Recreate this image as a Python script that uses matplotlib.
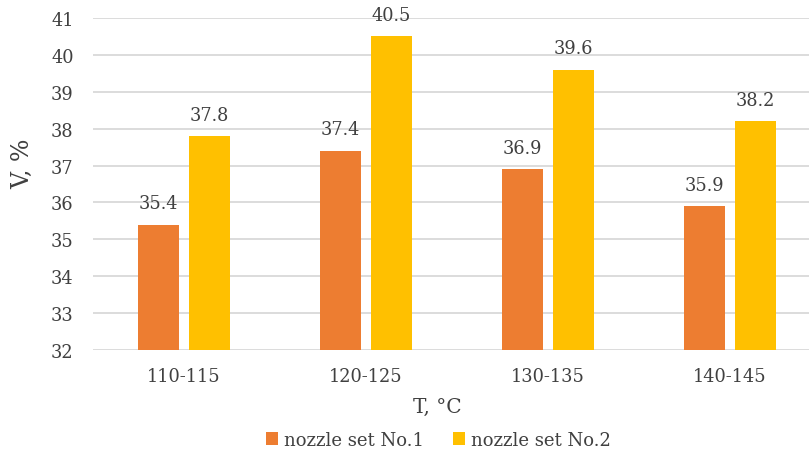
import numpy as np
import matplotlib.pyplot as plt

categories = ['110-115', '120-125', '130-135', '140-145']
set1 = [35.4, 37.4, 36.9, 35.9]
set2 = [37.8, 40.5, 39.6, 38.2]
series_names = ['nozzle set No.1', 'nozzle set No.2']
yticks = [32, 33, 34, 35, 36, 37, 38, 39, 40, 41]

plt.rcParams['font.family'] = ['DejaVu Serif']
text_color = '#404040'

fig = plt.figure(figsize=(8.09, 4.52), dpi=100)
ax = fig.add_axes([93 / 809, 1 - 351 / 452, 728 / 809, 332 / 452])

x = np.arange(len(categories))
w = 0.225
off = 0.14
b1 = ax.bar(x - off, np.array(set1) - 32, w, bottom=32, color='#ED7D31', label=series_names[0], zorder=3)
b2 = ax.bar(x + off, np.array(set2) - 32, w, bottom=32, color='#FFC000', label=series_names[1], zorder=3)

for bars, vals in [(b1, set1), (b2, set2)]:
    for r, v in zip(bars, vals):
        ax.annotate(f'{v:.1f}', (r.get_x() + r.get_width() / 2, v), xytext=(0, 9),
                    textcoords='offset points', ha='center', va='bottom',
                    fontsize=12.8, color=text_color)

ax.set_xlim(-0.5, len(categories) - 0.5)
ax.set_ylim(32, 41)
ax.set_yticks(yticks)
ax.set_xticks(x)
ax.set_xticklabels(categories)
ax.tick_params(axis='both', length=0, labelsize=12.8, colors=text_color)
ax.tick_params(axis='x', pad=12)
ax.tick_params(axis='y', pad=14)
ax.grid(axis='y', color='#D9D9D9', linewidth=1.3, zorder=0)
for s in ax.spines.values():
    s.set_visible(False)

ax.set_xlabel('T, °C', fontsize=14.5, color=text_color)
ax.xaxis.set_label_coords((437.5 - 93) / 728, (351 - 407) / 332)
ax.xaxis.label.set_va('center')
ax.set_ylabel('V, %', fontsize=17, color=text_color)
ax.yaxis.set_label_coords((23 - 93) / 728, (351 - 164) / 332)
ax.yaxis.label.set_va('center')

fig.legend(handles=[b1, b2], labels=series_names, loc='center', bbox_to_anchor=(438 / 809, 1 - 441 / 452),
           ncol=2, frameon=False, fontsize=13, handlelength=0.7, handleheight=0.7,
           handletextpad=0.3, columnspacing=1.6, labelcolor=text_color)

fig.savefig('out.png', dpi=100)
